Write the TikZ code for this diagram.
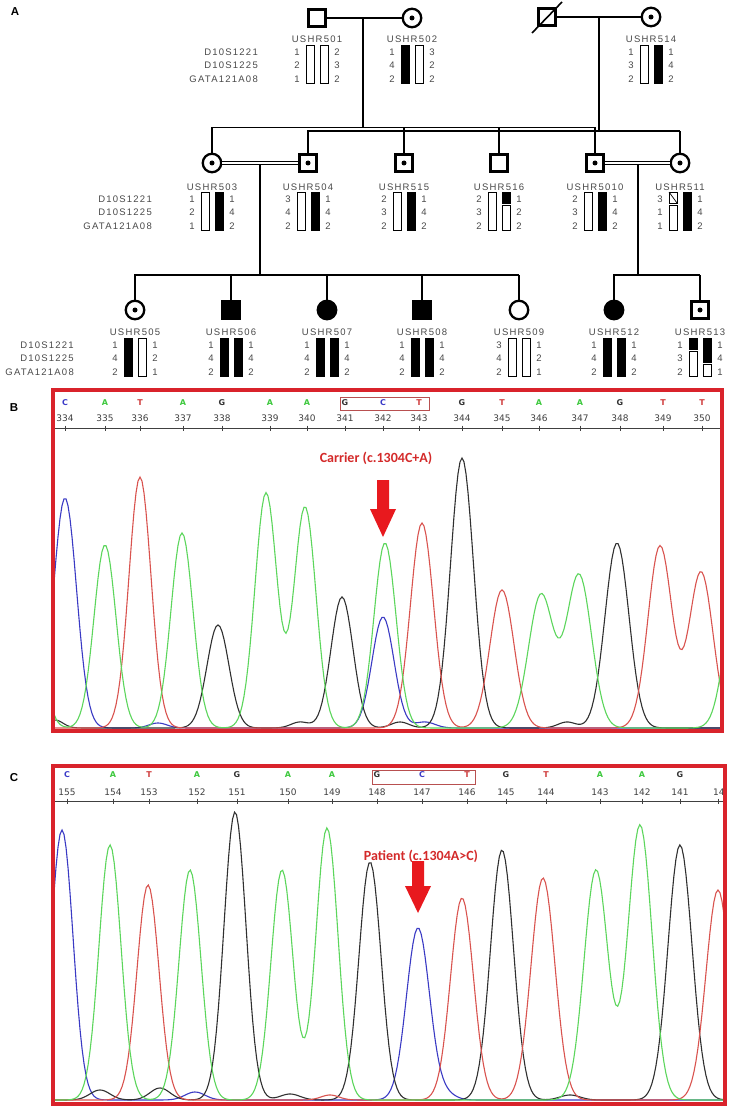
\documentclass[tikz,border=0pt]{standalone}
\usepackage{fontspec}
\setmainfont{Liberation Sans}
\newfontfamily\pedfont[LetterSpace=13]{Liberation Sans}
\newfontfamily\verd{DejaVu Sans}
\newfontfamily\calb{Carlito}
\usetikzlibrary{calc}
\definecolor{fr}{HTML}{D9232B}
\definecolor{tb}{HTML}{3A3AC4}
\definecolor{tg}{HTML}{5CD65C}
\definecolor{tr}{HTML}{D9534F}
\definecolor{tk}{HTML}{303030}
\definecolor{bb}{HTML}{3B3BC8}
\definecolor{bg}{HTML}{3CC83C}
\definecolor{br}{HTML}{D03C3C}
\definecolor{bk}{HTML}{333333}
\definecolor{txt}{HTML}{4A4A4A}
\definecolor{lblred}{HTML}{D42A2A}
\definecolor{arr}{HTML}{E8191E}
\definecolor{boxr}{HTML}{B85050}
\tikzset{
 male/.style={rectangle, draw, line width=2.3pt, minimum size=17pt, inner sep=0pt},
 female/.style={circle, draw, line width=2.3pt, minimum size=18.5pt, inner sep=0pt},
 aff/.style={fill=black},
 conn/.style={line width=1.5pt},
 cons/.style={line width=1.2pt, double, double distance=2.4pt},
 lbl/.style={font=\pedfont\fontsize{9.5}{10}\selectfont, text=txt, inner sep=0pt},
 num/.style={font=\pedfont\fontsize{9.5}{10}\selectfont, text=txt, inner sep=0pt},
 mk/.style={font=\pedfont\fontsize{9.5}{10}\selectfont, text=txt, inner sep=0pt, anchor=east},
 barst/.style={draw=black, line width=0.8pt},
 frame/.style={draw=fr, line width=4pt},
 axisl/.style={draw=black!75, line width=0.9pt},
 digit/.style={font=\verd\fontsize{9}{10}\selectfont, text=black!75, inner sep=0pt},
 base/.style={font=\verd\bfseries\fontsize{8}{9}\selectfont, inner sep=0pt},
 trace/.style={line width=1.1pt},
 mut/.style={font=\calb\bfseries\fontsize{14}{15}\selectfont, text=lblred, inner sep=0pt},
 panel/.style={font=\bfseries\fontsize{11.5}{12}\selectfont, inner sep=0pt},
 gbox/.style={draw=boxr, line width=0.8pt},
 redarrow/.style={fill=arr},
}
\newcommand\haplo[5]{%
  \foreach \v [count=\k] in {#4} \node[num] (h#1L\k) at ({#2-20},{#3+7+13.5*(\k-1)}) {\v};
  \foreach \v [count=\k] in {#5} \node[num] (h#1R\k) at ({#2+20},{#3+7+13.5*(\k-1)}) {\v};
}
\newcommand\hapbar[4]{\draw[barst,fill=#4] ({#1-4},{#2}) rectangle ({#1+4},{#3});}
\newcommand\hapbars[4]{\hapbar{#1-7}{#2}{#2+38}{#3}\hapbar{#1+7}{#2}{#2+38}{#4}}
\begin{document}
\begin{tikzpicture}[x=1pt,y=-1pt,
  declare function={gs(\gx,\gc,\gh,\gw)=\gh*exp(-0.5*min(((\gx-\gc)/\gw)*((\gx-\gc)/\gw),30));}]
\fill[white] (0,0) rectangle (734,1110);
\useasboundingbox (0,0) rectangle (734,1110);

% ---------------- panel labels
\node[panel] (pA) at (15,12) {A};
\node[panel] (pB) at (14,408) {B};
\node[panel] (pC) at (14,778) {C};

% ---------------- pedigree symbols
\node[male] (i501) at (317,18) {};
\node[female] (i502) at (412,18) {};
\node[male] (i500) at (547,17) {};
\node[female] (i514) at (651,17) {};
\node[female] (i503) at (212,163) {};
\node[male] (i504) at (308,163) {};
\node[male] (i515) at (404,163) {};
\node[male] (i516) at (499,163) {};
\node[male] (i5010) at (595,163) {};
\node[female] (i511) at (680,163) {};
\node[female] (i505) at (135,310) {};
\node[male,aff] (i506) at (231,310) {};
\node[female,aff] (i507) at (327,310) {};
\node[male,aff] (i508) at (422,310) {};
\node[female] (i509) at (519,310) {};
\node[female,aff] (i512) at (614,310) {};
\node[male] (i513) at (700,310) {};
\foreach \n in {502,514,503,504,515,5010,511,505,513} \fill (i\n.center) circle (2.5);
\draw[line width=1.6pt] ($(i500.center)+(-15,16)$) -- ($(i500.center)+(15,-15)$);

% ---------------- connectors
\draw[conn] (i501.east) -- (i502.west);
\coordinate (m1) at (363,18); \coordinate (s1) at (363,127.5);
\draw[conn] (m1) -- (s1);
\draw[conn] (i503.north) |- (i5010.north |- s1);
\foreach \n in {515,516,5010} \draw[conn] (i\n.north) -- (i\n.north |- s1);
\draw[conn] (i500.east) -- (i514.west);
\coordinate (m2) at (599,17); \coordinate (s2) at (599,131);
\draw[conn] (m2) -- (s2);
\draw[conn] (i504.north) |- (i511.north |- s2);
\draw[conn] (i511.north) -- (i511.north |- s2);
\draw[cons] (i503.east) -- (i504.west);
\coordinate (m3) at (260,165); \coordinate (s3) at (260,275);
\draw[conn] (m3) -- (s3);
\draw[conn] (i505.north) |- (i509.north |- s3);
\foreach \n in {506,507,508,509} \draw[conn] (i\n.north) -- (i\n.north |- s3);
\draw[cons] (i5010.east) -- (i511.west);
\coordinate (m4) at (638,165); \coordinate (s4) at (638,275);
\draw[conn] (m4) -- (s4);
\draw[conn] (i512.north) |- (i513.north |- s4);
\draw[conn] (i513.north) -- (i513.north |- s4);

% ---------------- names
\foreach \n/\x in {501/317,502/412,514/651} \node[lbl] (L\n) at (\x,39) {USHR\n};
\foreach \n/\x in {503/212,504/308,515/404,516/499,5010/595,511/680} \node[lbl] (L\n) at (\x,187) {USHR\n};
\foreach \n/\x in {505/135,506/231,507/327,508/422,509/519,512/614,513/700} \node[lbl] (L\n) at (\x,332) {USHR\n};

% ---------------- markers
\foreach \m [count=\k] in {D10S1221,D10S1225,GATA121A08} {
  \node[mk] (mkI\k) at (258,{52+13.5*(\k-1)}) {\m};
  \node[mk] (mkII\k) at (152,{199+13.5*(\k-1)}) {\m};
  \node[mk] (mkIII\k) at (74,{345+13.5*(\k-1)}) {\m};
}

% ---------------- haplotypes
\haplo{501}{317}{45}{1,2,1}{2,3,2} \hapbars{317}{45}{white}{white}
\haplo{502}{412}{45}{1,4,2}{3,2,2} \hapbars{412}{45}{black}{white}
\haplo{514}{651}{45}{1,3,2}{1,4,2} \hapbars{651}{45}{white}{black}
\haplo{503}{212}{192}{1,2,1}{1,4,2} \hapbars{212}{192}{white}{black}
\haplo{504}{308}{192}{3,4,2}{1,4,2} \hapbars{308}{192}{white}{black}
\haplo{515}{404}{192}{2,3,2}{1,4,2} \hapbars{404}{192}{white}{black}
\haplo{516}{499}{192}{2,3,2}{1,2,2}
  \hapbar{492}{192}{230}{white} \hapbar{506}{192}{203}{black} \hapbar{506}{205}{230}{white}
\haplo{5010}{595}{192}{2,3,2}{1,4,2} \hapbars{595}{192}{white}{black}
\haplo{511}{680}{192}{3,1,1}{1,4,2}
  \hapbar{673}{192}{203}{white} \draw[line width=0.7pt] (669,192) -- (677,203);
  \hapbar{673}{205}{230}{white} \hapbar{687}{192}{230}{black}
\haplo{505}{135}{338}{1,4,2}{1,2,1} \hapbars{135}{338}{black}{white}
\haplo{506}{231}{338}{1,4,2}{1,4,2} \hapbars{231}{338}{black}{black}
\haplo{507}{327}{338}{1,4,2}{1,4,2} \hapbars{327}{338}{black}{black}
\haplo{508}{422}{338}{1,4,2}{1,4,2} \hapbars{422}{338}{black}{black}
\haplo{509}{519}{338}{3,4,2}{1,2,1} \hapbars{519}{338}{white}{white}
\haplo{512}{614}{338}{1,4,2}{1,4,2} \hapbars{614}{338}{black}{black}
\haplo{513}{700}{338}{1,3,2}{1,4,1}
  \hapbar{693}{338}{349}{black} \hapbar{693}{351}{376}{white}
  \hapbar{707}{338}{362}{black} \hapbar{707}{364}{376}{white}

% ================= chromatogram B
\draw[axisl] (55,428) -- (720,428);
\foreach \p/\n/\b/\c in {65/334/C/bb,105/335/A/bg,140/336/T/br,183/337/A/bg,222/338/G/bk,270/339/A/bg,307/340/A/bg,345/341/G/bk,383/342/C/bb,419/343/T/br,462/344/G/bk,502/345/T/br,539/346/A/bg,580/347/A/bg,620/348/G/bk,663/349/T/br,702/350/T/br} {
  \node[digit] (bn\n) at (\p,418) {\n};
  \node[base,text=\c] (bl\n) at (\p,403) {\b};
  \draw[axisl] (\p,425.5) -- (\p,431);
}
\draw[gbox] (340,397) rectangle (429,410);
\begin{scope}
\clip (55,431) rectangle (722,729);
\draw[trace,tb] plot[domain=54:722,samples=335] (\x,{728-gs(\x,65,230,11.5)-gs(\x,383,111,11)-gs(\x,158,5,9)-gs(\x,425,6,10)});
\draw[trace,tk] plot[domain=54:722,samples=335] (\x,{728-gs(\x,218,103,11)-gs(\x,342,131,11)-gs(\x,462,270,11.5)-gs(\x,617,185,12)-gs(\x,300,6,9)-gs(\x,400,6,9)-gs(\x,567,6,9)-gs(\x,55,8,8)});
\draw[trace,tr] plot[domain=54:722,samples=335] (\x,{728-gs(\x,140,251,11)-gs(\x,422,205,11.5)-gs(\x,502,138,12)-gs(\x,660,182,12)-gs(\x,701,156,12)});
\draw[trace,tg] plot[domain=54:722,samples=335] (\x,{728-gs(\x,30,150,11)-gs(\x,105,183,11)-gs(\x,182,195,11)-gs(\x,266,235,11)-gs(\x,305,221,11)-gs(\x,385,185,11)-gs(\x,541,133,12.5)-gs(\x,579,153,12.5)-gs(\x,737,140,12)});
\end{scope}
\draw[frame] (53,390) rectangle (722,731);
\node[mut] (carrier) at (376,458) {Carrier (c.1304C+A)};
\fill[redarrow] (377,480) -- (389,480) -- (389,509) -- (396,509) -- (383,537) -- (370,509) -- (377,509) -- cycle;

% ================= chromatogram C
\draw[axisl] (55,801) -- (723,801);
\foreach \p/\n/\b/\c in {67/155/C/bb,113/154/A/bg,149/153/T/br,197/152/A/bg,237/151/G/bk,288/150/A/bg,332/149/A/bg,377/148/G/bk,422/147/C/bb,467/146/T/br,506/145/G/bk,546/144/T/br,600/143/A/bg,642/142/A/bg,680/141/G/bk} {
  \node[digit] (cn\n) at (\p,792) {\n};
  \node[base,text=\c] (cl\n) at (\p,775) {\b};
  \draw[axisl] (\p,798.5) -- (\p,804);
}
\node[digit,anchor=west] (cn14) at (713,792) {14};
\draw[axisl] (718,798.5) -- (718,804);
\draw[gbox] (372,770) rectangle (475,784);
\begin{scope}
\clip (55,804) rectangle (723,1101);
\draw[trace,tb] plot[domain=54:724,samples=335] (\x,{1100-gs(\x,62,270,11)-gs(\x,418,172,11.5)-gs(\x,195,8,10)-gs(\x,445,6,10)});
\draw[trace,tk] plot[domain=54:724,samples=335] (\x,{1100-gs(\x,235,288,11)-gs(\x,370,238,11)-gs(\x,502,250,11.5)-gs(\x,680,255,12)-gs(\x,100,10,10)-gs(\x,160,12,10)-gs(\x,290,6,10)-gs(\x,570,5,10)});
\draw[trace,tr] plot[domain=54:724,samples=335] (\x,{1100-gs(\x,148,215,11)-gs(\x,462,202,11.5)-gs(\x,543,222,12)-gs(\x,718,210,12)-gs(\x,330,5,9)});
\draw[trace,tg] plot[domain=54:724,samples=335] (\x,{1100-gs(\x,110,255,11)-gs(\x,190,230,11)-gs(\x,282,230,11)-gs(\x,327,272,11)-gs(\x,596,230,12)-gs(\x,640,275,12)});
\end{scope}
\draw[frame] (53,766) rectangle (725,1104);
\node[mut] (patient) at (421,856) {Patient (c.1304A>C)};
\fill[redarrow] (412,861) -- (424,861) -- (424,886) -- (431,886) -- (418,913) -- (405,886) -- (412,886) -- cycle;
\end{tikzpicture}
\end{document}
